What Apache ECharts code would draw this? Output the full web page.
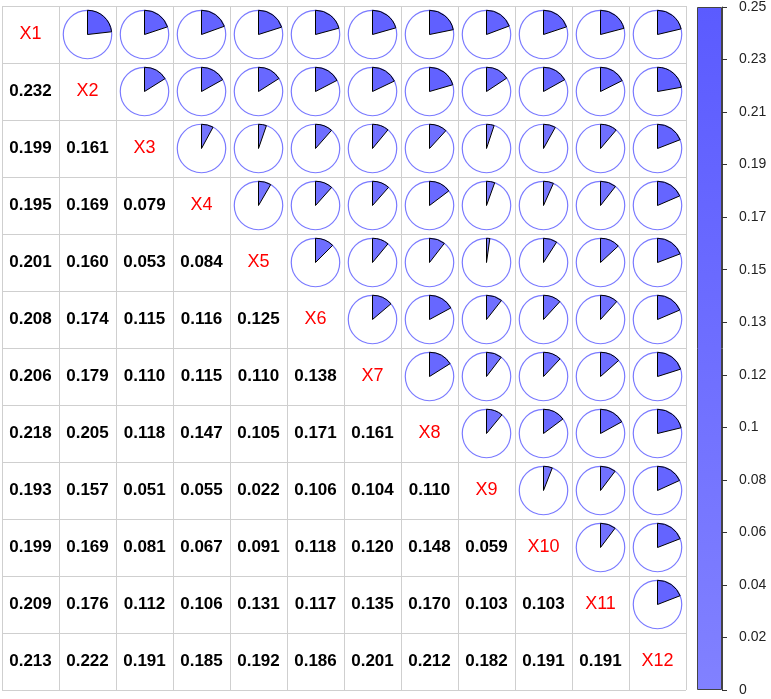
<!DOCTYPE html>
<html>
<head>
<meta charset="utf-8">
<script src="https://cdn.jsdelivr.net/npm/echarts@6/dist/echarts.min.js"></script>
<style>
html,body{margin:0;padding:0;background:#fff;}
#chart{width:771px;height:699px;}
</style>
</head>
<body>
<div id="chart"></div>
<script>
var varNames = ['X1','X2','X3','X4','X5','X6','X7','X8','X9','X10','X11','X12'];
// lower-triangle values, row i has i entries (columns 0..i-1)
var lowerRows = [
  [],
  [0.232],
  [0.199, 0.161],
  [0.195, 0.169, 0.079],
  [0.201, 0.160, 0.053, 0.084],
  [0.208, 0.174, 0.115, 0.116, 0.125],
  [0.206, 0.179, 0.110, 0.115, 0.110, 0.138],
  [0.218, 0.205, 0.118, 0.147, 0.105, 0.171, 0.161],
  [0.193, 0.157, 0.051, 0.055, 0.022, 0.106, 0.104, 0.110],
  [0.199, 0.169, 0.081, 0.067, 0.091, 0.118, 0.120, 0.148, 0.059],
  [0.209, 0.176, 0.112, 0.106, 0.131, 0.117, 0.135, 0.170, 0.103, 0.103],
  [0.213, 0.222, 0.191, 0.185, 0.192, 0.186, 0.201, 0.212, 0.182, 0.191, 0.191]
];
var colorRange = [0, 0.25];
var colorbarTickLabels = ['0','0.02','0.04','0.06','0.08','0.1','0.12','0.13','0.15','0.17','0.19','0.21','0.23','0.25'];

var n = varNames.length;
var cells = [];
for (var i = 0; i < n; i++) {
  for (var j = 0; j < n; j++) {
    if (i === j) cells.push([j, i, 0, 'diag', varNames[i]]);
    else if (j < i) cells.push([j, i, lowerRows[i][j], 'num', '']);
    else cells.push([j, i, lowerRows[j][i], 'pie', '']);
  }
}

function lerpColor(v) {
  var t = (v - colorRange[0]) / (colorRange[1] - colorRange[0]);
  t = Math.max(0, Math.min(1, t));
  var a = [0x80, 0x80, 0xff], b = [0x5b, 0x5b, 0xff];
  var c = a.map(function (x, k) { return Math.round(x + (b[k] - x) * t); });
  return 'rgb(' + c.join(',') + ')';
}

var chart = echarts.init(document.getElementById('chart'), null, {renderer: 'canvas'});
var step = (colorRange[1] - colorRange[0]) / (colorbarTickLabels.length - 1);

var option = {
  animation: false,
  backgroundColor: '#ffffff',
  grid: [
    {left: 2, top: 6, width: 684, height: 684},
    {left: 697, top: 6, width: 25, height: 684}
  ],
  xAxis: [
    {gridIndex: 0, type: 'value', min: 0, max: n, interval: 1,
     axisLine: {show: false}, axisTick: {show: false}, axisLabel: {show: false},
     splitLine: {show: true, lineStyle: {color: '#cfcfcf', width: 1}}},
    {gridIndex: 1, type: 'category', data: ['c'], show: false}
  ],
  yAxis: [
    {gridIndex: 0, type: 'value', min: 0, max: n, interval: 1, inverse: true,
     axisLine: {show: false}, axisTick: {show: false}, axisLabel: {show: false},
     splitLine: {show: true, lineStyle: {color: '#cfcfcf', width: 1}}},
    {gridIndex: 1, type: 'value', min: colorRange[0], max: colorRange[1], interval: step,
     position: 'right',
     axisLine: {show: true, lineStyle: {color: '#444', width: 1}},
     axisTick: {show: true, length: 5, lineStyle: {color: '#333'}},
     axisLabel: {show: true, margin: 17, color: '#222', fontSize: 14,
       fontFamily: 'Liberation Sans, Arial, sans-serif',
       formatter: function (v) {
         var idx = Math.round((v - colorRange[0]) / step);
         return colorbarTickLabels[idx] !== undefined ? colorbarTickLabels[idx] : '';
       }},
     splitLine: {show: false}}
  ],
  series: [
    {
      type: 'custom',
      xAxisIndex: 0, yAxisIndex: 0,
      data: cells,
      clip: false,
      renderItem: function (params, api) {
        var col = api.value(0), row = api.value(1), v = api.value(2);
        var kind = cells[params.dataIndex][3];
        var label = cells[params.dataIndex][4];
        var c = api.coord([col + 0.5, row + 0.5]);
        var sz = api.size([1, 1]);
        if (kind === 'diag') {
          return {type: 'text', x: c[0], y: c[1],
            style: {text: label, fill: '#ff0000', fontSize: 18,
              fontFamily: 'Liberation Sans, Arial, sans-serif',
              align: 'center', verticalAlign: 'middle'}};
        }
        if (kind === 'num') {
          return {type: 'text', x: c[0], y: c[1],
            style: {text: v.toFixed(3), fill: '#000', fontSize: 17, fontWeight: 'bold',
              fontFamily: 'Liberation Sans, Arial, sans-serif',
              align: 'center', verticalAlign: 'middle'}};
        }
        var r = Math.abs(sz[0]) * 0.425;
        var start = -Math.PI / 2;
        return {type: 'group', children: [
          {type: 'circle', shape: {cx: c[0], cy: c[1], r: r},
           style: {fill: '#ffffff', stroke: '#7a7aff', lineWidth: 1.2}},
          {type: 'sector', shape: {cx: c[0], cy: c[1], r0: 0, r: r,
             startAngle: start, endAngle: start + v * 2 * Math.PI, clockwise: true},
           style: {fill: lerpColor(v), stroke: '#000', lineWidth: 1}}
        ]};
      }
    },
    {
      type: 'bar',
      xAxisIndex: 1, yAxisIndex: 1,
      barWidth: '100%',
      data: [colorRange[1]],
      itemStyle: {
        color: new echarts.graphic.LinearGradient(0, 0, 0, 1, [
          {offset: 0, color: '#5b5bff'}, {offset: 1, color: '#8181ff'}
        ]),
        borderColor: '#444', borderWidth: 1
      },
      silent: true
    }
  ]
};
chart.setOption(option);
</script>
</body>
</html>
